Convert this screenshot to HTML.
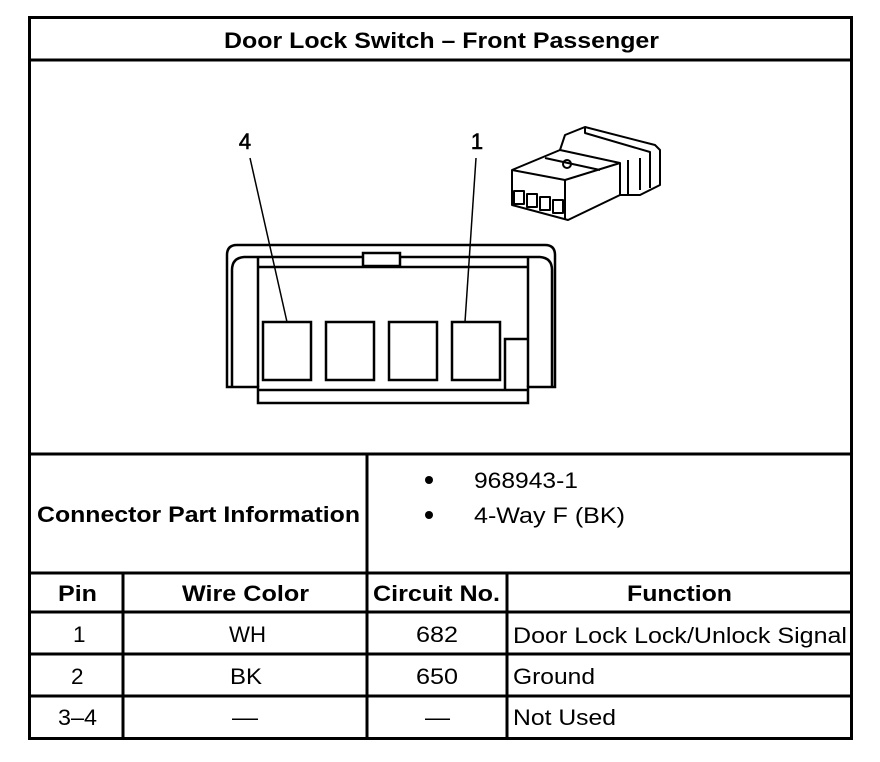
<!DOCTYPE html>
<html><head><meta charset="utf-8"><style>
html,body{margin:0;padding:0;background:#fff;}
svg{display:block;font-family:"Liberation Sans",Arial,sans-serif;}
</style></head><body>
<svg width="880" height="762" viewBox="0 0 880 762" xmlns="http://www.w3.org/2000/svg">
<rect width="880" height="762" fill="#fff"/>
<g stroke="#000" stroke-width="3" fill="none">
<rect x="29.5" y="17.5" width="822" height="721"/>
<line x1="29" y1="60" x2="852" y2="60"/>
<line x1="29" y1="454" x2="852" y2="454"/>
<line x1="29" y1="573" x2="852" y2="573"/>
<line x1="29" y1="612" x2="852" y2="612"/>
<line x1="29" y1="654" x2="852" y2="654"/>
<line x1="29" y1="696" x2="852" y2="696"/>
<line x1="367" y1="454" x2="367" y2="738"/>
<line x1="123" y1="573" x2="123" y2="738"/>
<line x1="507" y1="573" x2="507" y2="738"/>
</g>
<g font-size="22.5" font-weight="bold">
<text x="224" y="48" textLength="435" lengthAdjust="spacingAndGlyphs">Door Lock Switch – Front Passenger</text>
<text x="37" y="522" textLength="323" lengthAdjust="spacingAndGlyphs">Connector Part Information</text>
<text x="58" y="601" textLength="39" lengthAdjust="spacingAndGlyphs">Pin</text>
<text x="182" y="601" textLength="127" lengthAdjust="spacingAndGlyphs">Wire Color</text>
<text x="373" y="601" textLength="127" lengthAdjust="spacingAndGlyphs">Circuit No.</text>
<text x="627" y="601" textLength="105" lengthAdjust="spacingAndGlyphs">Function</text>
</g>
<g font-size="22.5">
<text x="73" y="642">1</text>
<text x="229" y="642" textLength="37" lengthAdjust="spacingAndGlyphs">WH</text>
<text x="416" y="642" textLength="42" lengthAdjust="spacingAndGlyphs">682</text>
<text x="71" y="684">2</text>
<text x="230" y="684" textLength="32" lengthAdjust="spacingAndGlyphs">BK</text>
<text x="416" y="684" textLength="42" lengthAdjust="spacingAndGlyphs">650</text>
<text x="58" y="725" textLength="39" lengthAdjust="spacingAndGlyphs">3–4</text>
<text x="232" y="725" textLength="26" lengthAdjust="spacingAndGlyphs">—</text>
<text x="425" y="725" textLength="25" lengthAdjust="spacingAndGlyphs">—</text>
<text x="513" y="643" textLength="334" lengthAdjust="spacingAndGlyphs">Door Lock Lock/Unlock Signal</text>
<text x="513" y="684" textLength="82" lengthAdjust="spacingAndGlyphs">Ground</text>
<text x="513" y="725" textLength="103" lengthAdjust="spacingAndGlyphs">Not Used</text>
<text x="474" y="488" textLength="104" lengthAdjust="spacingAndGlyphs">968943-1</text>
<text x="474" y="523" textLength="151" lengthAdjust="spacingAndGlyphs">4-Way F (BK)</text>
</g>
<circle cx="429" cy="480" r="4"/><circle cx="429" cy="515" r="4"/>
<g stroke="#000" stroke-width="2.5" fill="none">
<path d="M227,387 V255 Q227,245 237,245 H545 Q555,245 555,255 V387 H528 V403 H258 V387 Z"/>
<path d="M232,387 V270 Q232,258 244,257 H540 Q552,258 552,270 V387"/>
<line x1="258" y1="267" x2="528" y2="267"/>
<line x1="258" y1="257" x2="258" y2="387"/>
<line x1="528" y1="257" x2="528" y2="387"/>
<line x1="258" y1="390" x2="528" y2="390"/>
<rect x="363" y="253" width="37" height="13" fill="#fff"/>
<rect x="263" y="322" width="48" height="58"/>
<rect x="326" y="322" width="48" height="58"/>
<rect x="389" y="322" width="48" height="58"/>
<rect x="452" y="322" width="48" height="58"/>
<path d="M505,390 V339 H527"/>
</g>
<g stroke="#000" stroke-width="1.5">
<line x1="250" y1="158" x2="287" y2="322"/>
<line x1="476" y1="158" x2="465" y2="322"/>
</g>
<g font-size="22" text-anchor="middle">
<text x="245" y="149" stroke="#000" stroke-width="0.6">4</text><text x="477" y="149" stroke="#000" stroke-width="0.6">1</text>
</g>
<g stroke="#000" stroke-width="2" fill="none" stroke-linejoin="round">
<path d="M512,170 L560,150 L620,163 L620,195 L568,220 L512,205 Z"/>
<path d="M512,170 L565,180 L620,163"/>
<path d="M565,180 V220"/>
<path d="M560,150 L565,135 L585,127 L655,145 L660,150 V185 L640,195 L620,195"/>
<path d="M585,127 V133 L650,152 V188"/>
<path d="M628,160 V195 M640,158 V190"/>
<rect x="514" y="191" width="10" height="13"/>
<rect x="527" y="194" width="10" height="13"/>
<rect x="540" y="197" width="10" height="13"/>
<rect x="553" y="200" width="10" height="13"/>
<circle cx="567" cy="164" r="4"/>
<path d="M545,158 L600,170"/>
</g>
</svg>
</body></html>
